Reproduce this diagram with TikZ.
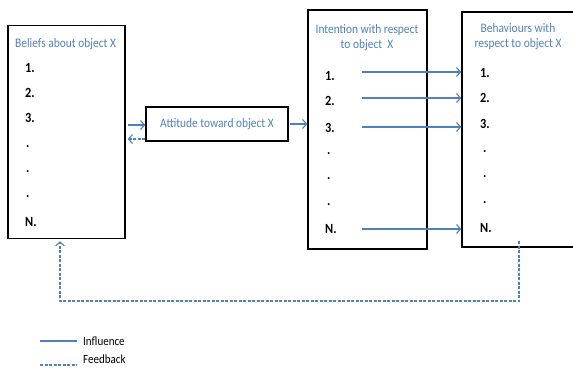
\documentclass[tikz,border=0pt]{standalone}
\usepackage{fontspec}
\setmainfont{Carlito}[FakeStretch=0.88]
\usetikzlibrary{arrows.meta}
\definecolor{hblue}{HTML}{4F81BD}

\begin{document}
\begin{tikzpicture}[x=1pt,y=-1pt,>={Straight Barb[length=4pt,width=9pt]},
    box/.style={draw=black, line width=1.5pt, inner sep=0pt},
    title/.style={text=hblue, font=\fontsize{13}{15}\selectfont, align=center, inner sep=0pt},
    item/.style={anchor=west, font=\fontsize{14}{16}\selectfont\bfseries, inner sep=0pt},
    infl/.style={hblue, line width=1.1pt, ->},
    feed/.style={hblue, line width=1.1pt, dash pattern=on 3pt off 1.5pt, ->}]
  \useasboundingbox (0,0) rectangle (573,367);
  \clip (0,0) rectangle (573,367);
  % boxes
  \node[box, minimum width=117pt, minimum height=213pt] (bel) at (66.5,132) {};
  \node[box, minimum width=142pt, minimum height=34pt] (att) at (217,124) {};
  \node[box, minimum width=119pt, minimum height=239pt] (int) at (367.5,129.5) {};
  \node[box, minimum width=160pt, minimum height=235pt] (beh) at (542,129.5) {};
  % titles
  \node[title, anchor=west] (belt) at (15,44) {Beliefs about object X};
  \node[title] (att1) at (217,124) {Attitude toward object X};
  \node[title] (intt) at (367,37.5) {Intention with respect\\to object\ \ X};
  \node[title] (beht) at (518,37) {Behaviours with\\respect to object X};
  % beliefs
  \node[item] (b1) at (25,68) {1.};
  \node[item] (b2) at (25,93) {2.};
  \node[item] (b3) at (25,118) {3.};
  \node[item] (b4) at (26,147) {.};
  \node[item] (b5) at (26,172) {.};
  \node[item] (b6) at (26,197) {.};
  \node[item] (bn) at (25,222) {N.};
  % intention
  \node[item] (i1) at (325,76) {1.};
  \node[item] (i2) at (325,101) {2.};
  \node[item] (i3) at (325,128) {3.};
  \node[item] (i4) at (327,154) {.};
  \node[item] (i5) at (327,179) {.};
  \node[item] (i6) at (327,205) {.};
  \node[item] (in) at (325,229) {N.};
  % behaviours
  \node[item] (h1) at (480,73) {1.};
  \node[item] (h2) at (480,98) {2.};
  \node[item] (h3) at (480,124) {3.};
  \node[item] (h4) at (483,152) {.};
  \node[item] (h5) at (483,177) {.};
  \node[item] (h6) at (483,203) {.};
  \node[item] (hn) at (480,228) {N.};
  % influence arrows
  \coordinate (s1) at (362,72);
  \coordinate (s2) at (362,98);
  \coordinate (s3) at (362,127);
  \coordinate (sn) at (362,229);
  \draw[infl] (s1) -- (s1 -| beh.west);
  \draw[infl] (s2) -- (s2 -| beh.west);
  \draw[infl] (s3) -- (s3 -| beh.west);
  \draw[infl] (sn) -- (sn -| beh.west);
  \draw[infl] ([xshift=2pt,yshift=-1pt]bel.east |- att.west) -- ([yshift=-1pt]att.west);
  \draw[feed] ([yshift=-15pt]att.west) -- ([xshift=2pt,yshift=-15pt]bel.east |- att.west);
  \draw[infl] ([xshift=1.5pt]att.east) -- (att.east -| int.west);
  % feedback loop
  \coordinate (fb) at (519,241);
  \draw[feed] (fb) -- (519,301) -- (60,301) -- ([yshift=-2pt]bel.south -| 60,0);
  % legend
  \draw[hblue, line width=1.1pt] (40,341) -- (77,341);
  \node[anchor=west, inner sep=0pt, font=\fontsize{12.5}{14}\selectfont] (linf) at (83,341) {Influence};
  \draw[hblue, line width=1.1pt, dash pattern=on 3pt off 1.5pt] (40,365) -- (77,365);
  \node[anchor=west, inner sep=0pt, font=\fontsize{12.5}{14}\selectfont] (lfed) at (83,359) {Feedback};
\end{tikzpicture}
\end{document}
